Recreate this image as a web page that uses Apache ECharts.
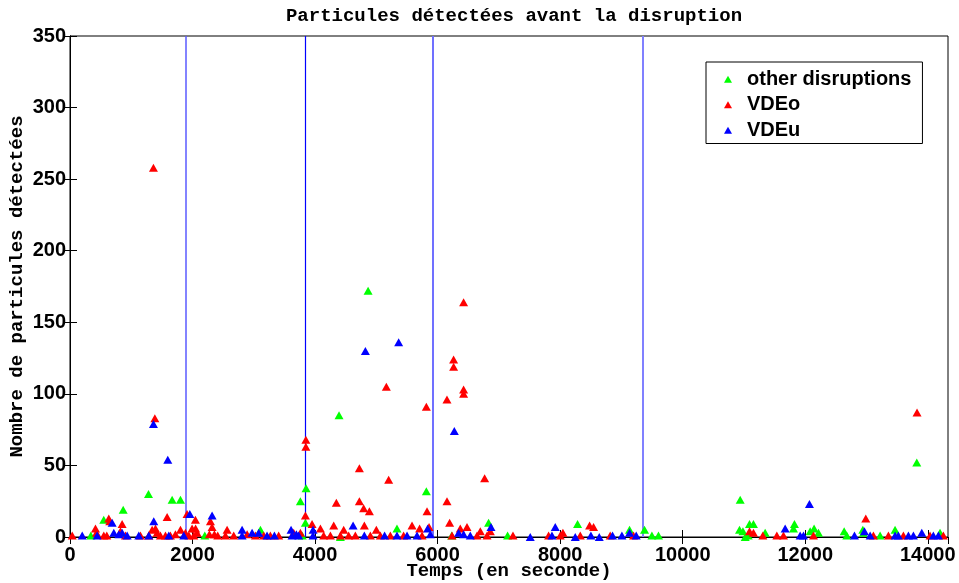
<!DOCTYPE html>
<html>
<head>
<meta charset="utf-8">
<script src="https://cdn.jsdelivr.net/npm/echarts@6/dist/echarts.min.js"></script>
<style>
  html, body { margin: 0; padding: 0; background: #fff; }
  #chart { width: 959px; height: 583px; }
</style>
</head>
<body>
<div id="chart"></div>
<script>
// ---- Data (time in seconds, number of detected particles) ----
const otherT = [340, 551, 868, 1281, 1667, 1803, 2200, 3108, 3760, 3853, 3842, 3790, 4391, 4413, 4865, 5337, 5816, 6230, 6832, 7142, 8284, 9132, 9377, 9497, 9605, 10938, 10927, 10983, 11090, 11155, 11020, 11069, 11346, 11824, 11808, 12145, 12080, 12216, 12635, 12678, 12940, 12950, 13222, 13466, 13820, 14200];
const otherN = [1, 12, 19, 30, 26, 26, 1, 5, 25, 34, 10, 1, 85, 0, 172, 6, 32, 1, 10, 1, 9, 5, 5, 1, 1, 26, 5, 4, 9, 9, 0, 1, 3, 9, 6, 6, 4, 3, 4, 1, 5, 3, 1, 5, 52, 3];

const vdeoT = [36, 416, 432, 551, 600, 633, 649, 824, 851, 905, 1150, 1286, 1341, 1362, 1385, 1395, 1422, 1476, 1558, 1585, 1639, 1721, 1803, 1884, 1911, 1940, 1993, 2020, 2047, 2050, 2075, 2275, 2292, 2319, 2357, 2411, 2537, 2564, 2672, 2891, 3026, 3162, 3270, 3406, 3651, 3760, 3842, 3850, 3850, 3951, 4087, 4140, 4250, 4304, 4347, 4413, 4467, 4548, 4657, 4723, 4723, 4793, 4804, 4886, 4902, 5000, 5065, 5163, 5201, 5228, 5445, 5582, 5706, 5746, 5816, 5827, 5860, 6153, 6153, 6196, 6235, 6261, 6261, 6370, 6424, 6424, 6424, 6480, 6643, 6697, 6767, 6806, 6860, 7230, 7811, 8001, 8045, 8328, 8480, 8545, 8817, 9197, 11090, 11155, 11308, 11537, 11645, 12134, 12988, 13113, 13357, 13602, 13825, 14037, 14254];
const vdeoN = [1, 6, 3, 1, 1, 13, 11, 4, 9, 1, 1, 1, 5, 258, 83, 6, 3, 1, 1, 14, 1, 2, 5, 3, 16, 1, 6, 1, 12, 6, 3, 2, 11, 7, 2, 1, 1, 5, 1, 2, 1, 1, 1, 1, 3, 3, 15, 68, 63, 9, 6, 1, 1, 8, 24, 1, 5, 1, 1, 48, 25, 20, 8, 18, 1, 5, 1, 105, 40, 1, 1, 8, 6, 1, 91, 18, 7, 96, 25, 10, 1, 124, 119, 6, 164, 103, 100, 7, 1, 4, 41, 1, 4, 1, 1, 1, 3, 1, 8, 7, 1, 1, 4, 3, 1, 1, 1, 1, 13, 1, 1, 1, 87, 1, 1];

const vdeuT = [199, 443, 688, 715, 797, 851, 933, 1123, 1286, 1362, 1367, 1596, 1612, 1857, 1955, 2319, 2809, 2809, 2972, 3080, 3216, 3336, 3608, 3624, 3695, 3733, 3967, 3967, 4620, 4804, 4821, 5135, 5337, 5364, 5501, 5664, 5837, 5881, 6272, 6343, 6424, 6533, 6871, 7512, 7866, 7920, 8246, 8502, 8638, 8855, 9008, 9132, 9241, 11672, 11917, 11971, 12069, 12803, 12966, 13059, 13466, 13520, 13684, 13765, 13902, 14091, 14173];
const vdeuN = [1, 1, 10, 3, 2, 3, 1, 1, 1, 79, 11, 54, 1, 1, 16, 15, 5, 1, 3, 3, 1, 1, 5, 1, 2, 1, 5, 1, 8, 1, 130, 1, 1, 136, 1, 1, 6, 2, 74, 3, 2, 1, 7, 0, 1, 7, 0, 1, 0, 1, 1, 3, 1, 6, 1, 1, 23, 1, 4, 1, 1, 1, 1, 1, 3, 1, 1];

// vertical reference lines (time, s)
const lineTimes = [1884, 3846, 5925, 9344];
const lineColors = ['#5a5aff', '#0000ff', '#7070ff', '#8080ff'];
const lineWidths = [1.5, 1.2, 2, 2];

const xMin = 0, xMax = 14330, xStep = 2000;
const yMin = 0, yMax = 350, yStep = 50;

const zip = (a, b) => a.map((v, i) => [v, b[i]]);

const monoFont = "'Liberation Mono', 'DejaVu Sans Mono', monospace";
const sansFont = "'Liberation Sans', Arial, Helvetica, sans-serif";

const chart = echarts.init(document.getElementById('chart'), null, { renderer: 'canvas' });

const tri = { symbol: 'triangle', symbolSize: [9, 8] };

const option = {
  animation: false,
  backgroundColor: '#fff',
  title: {
    text: 'Particules détectées avant la disruption',
    left: 509, top: 2, textAlign: 'center',
    textStyle: { fontFamily: monoFont, fontWeight: 'bold', fontSize: 19, color: '#000' }
  },
  grid: { left: 70, right: 11, top: 36, bottom: 46, show: true, borderColor: '#000', borderWidth: 1, backgroundColor: '#fff',
    containLabel: false, outerBoundsMode: 'none' },
  legend: {
    data: ['other disruptions', 'VDEo', 'VDEu'],
    orient: 'vertical', left: 706, top: 62,
    padding: [7, 11, 3, 18],
    itemWidth: 8, itemHeight: 7, itemGap: 5,
    borderColor: '#000', borderWidth: 1, backgroundColor: '#fff',
    textStyle: { fontFamily: sansFont, fontWeight: 'bold', fontSize: 20, color: '#000', lineHeight: 20.5, padding: [0, 0, 0, 10] }
  },
  xAxis: [{
    type: 'value', min: xMin, max: xMax, interval: xStep,
    name: 'Temps (en seconde)', nameLocation: 'middle', nameGap: 25, nameMoveOverlap: false,
    nameTextStyle: { fontFamily: monoFont, fontWeight: 'bold', fontSize: 19, color: '#000' },
    axisLine: { show: true, lineStyle: { color: '#000', width: 1 } },
    axisTick: { show: true, inside: true, length: 7, lineStyle: { color: '#000' } },
    axisLabel: { fontFamily: sansFont, fontWeight: 'bold', fontSize: 20, color: '#000', margin: 8, showMaxLabel: false,
      formatter: v => (v % xStep === 0 ? String(v) : '') },
    splitLine: { show: false }
  }, {
    type: 'value', position: 'top', min: xMin, max: xMax, interval: xStep,
    axisLine: { show: true, lineStyle: { color: '#000' } },
    axisTick: { show: true, inside: true, length: 7, lineStyle: { color: '#000' } },
    axisLabel: { show: false }, splitLine: { show: false }
  }],
  yAxis: [{
    type: 'value', min: yMin, max: yMax, interval: yStep,
    name: 'Nombre de particules détectées', nameLocation: 'middle', nameGap: 43, nameRotate: 90, nameMoveOverlap: false,
    nameTextStyle: { fontFamily: monoFont, fontWeight: 'bold', fontSize: 19, color: '#000' },
    axisLine: { show: true, lineStyle: { color: '#000', width: 1 } },
    axisTick: { show: true, inside: true, length: 7, lineStyle: { color: '#000' } },
    axisLabel: { fontFamily: sansFont, fontWeight: 'bold', fontSize: 20, color: '#000', margin: 4 },
    splitLine: { show: false }
  }, {
    type: 'value', position: 'right', min: yMin, max: yMax, interval: yStep,
    axisLine: { show: true, lineStyle: { color: '#000' } },
    axisTick: { show: true, inside: true, length: 7, lineStyle: { color: '#000' } },
    axisLabel: { show: false }, splitLine: { show: false }
  }],
  series: [
    {
      name: 'other disruptions', type: 'scatter', ...tri, z: 3,
      itemStyle: { color: '#00ff00', opacity: 1 },
      data: zip(otherT, otherN),
      markLine: {
        silent: true, symbol: 'none', animation: false, z: 2,
        label: { show: false },
        data: lineTimes.map((t, i) => ({ xAxis: t, lineStyle: { color: lineColors[i], width: lineWidths[i], type: 'solid', opacity: 1 } }))
      }
    },
    { name: 'VDEo', type: 'scatter', ...tri, z: 4, itemStyle: { color: '#ff0000', opacity: 1 }, data: zip(vdeoT, vdeoN) },
    { name: 'VDEu', type: 'scatter', ...tri, z: 5, itemStyle: { color: '#0000ff', opacity: 1 }, data: zip(vdeuT, vdeuN) }
  ]
};
chart.setOption(option);
</script>
</body>
</html>
